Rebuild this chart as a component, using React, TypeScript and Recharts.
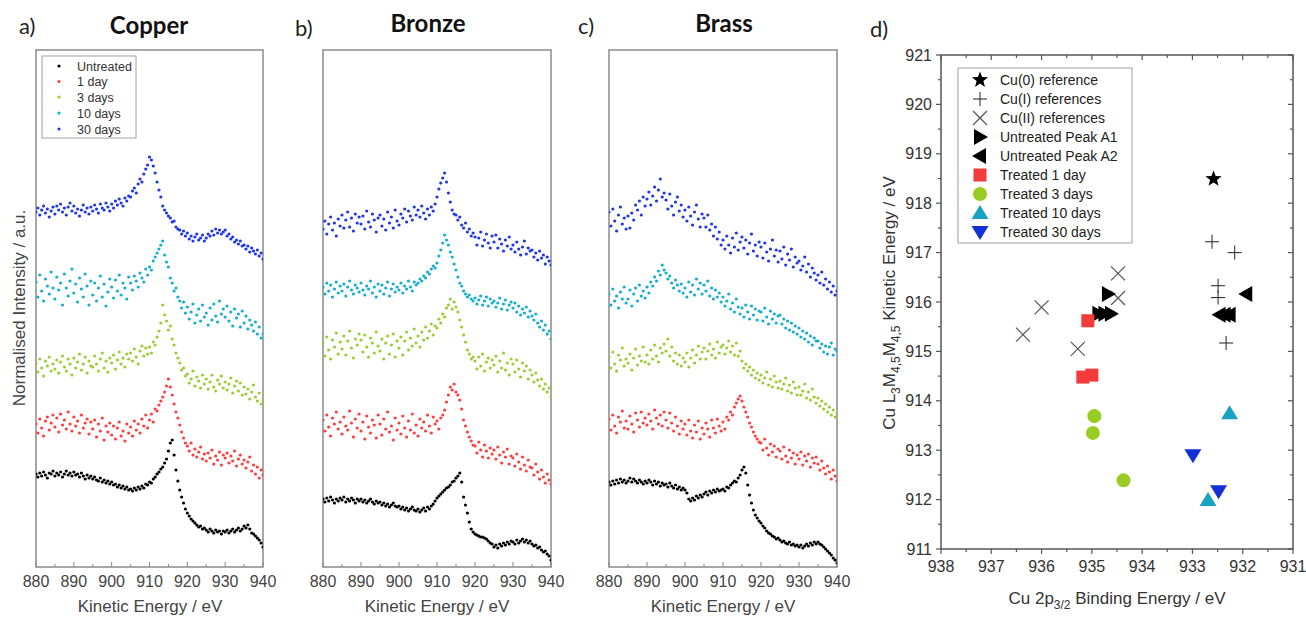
import React from 'react';
import { ScatterChart, Scatter, XAxis, YAxis, ReferenceArea } from 'recharts';

// ---------- Spectra (panels a-c): energy grid 880..940 eV, step 0.5 eV ----------
const energyStart = 880;
const energyStep = 0.5;

const copperUntreated = [
  93, 90, 94, 91, 95, 92, 89, 94, 93, 96,
  91, 94, 92, 95, 90, 93, 96, 92, 94, 91,
  95, 92, 93, 90, 94, 91, 88, 92, 89, 91,
  88, 90, 87, 86, 89, 85, 87, 84, 86, 83,
  85, 82, 83, 80, 82, 79, 81, 78, 80, 77,
  78, 76, 79, 77, 80, 78, 81, 79, 83, 82,
  85, 84, 88, 90, 93, 95, 98, 100, 104, 108,
  116, 124, 127, 112, 97, 86, 77, 70, 64, 58,
  54, 51, 48, 46, 44, 42, 40, 41, 38, 39,
  37, 35, 38, 36, 34, 37, 35, 36, 33, 36,
  35, 37, 34, 36, 38, 35, 37, 39, 36, 38,
  41, 39, 42, 38, 34, 33, 31, 29, 27, 24,
  20,
];
const copper1Day = [
  143, 134, 148, 139, 131, 146, 150, 137, 144, 152,
  140, 149, 135, 153, 142, 147, 138, 155, 143, 136,
  150, 141, 146, 134, 152, 139, 144, 148, 133, 145,
  138, 147, 130, 143, 136, 149, 127, 141, 135, 144,
  132, 141, 128, 139, 145, 131, 136, 126, 143, 134,
  140, 131, 146, 137, 143, 134, 148, 141, 152, 139,
  147, 153, 145, 158, 156, 162, 166, 170, 175, 181,
  188, 180, 172, 163, 155, 149, 142, 135, 129, 124,
  121, 116, 124, 112, 118, 110, 115, 120, 108, 113,
  106, 114, 109, 117, 103, 111, 107, 115, 102, 112,
  109, 114, 104, 111, 106, 116, 101, 108, 112, 103,
  107, 99, 105, 110, 96, 102, 93, 100, 89, 97,
  92,
];
const copper3Days = [
  204, 195, 208, 199, 191, 206, 201, 210, 196, 203,
  198, 207, 194, 205, 211, 200, 196, 208, 203, 192,
  209, 199, 205, 213, 197, 203, 210, 194, 206, 201,
  200, 211, 203, 196, 208, 214, 199, 206, 195, 209,
  204, 212, 198, 207, 215, 203, 209, 200, 213, 208,
  214, 206, 218, 210, 203, 216, 221, 211, 219, 213,
  220, 214, 225, 222, 230, 236, 244, 262, 252, 246,
  237, 241, 228, 222, 214, 209, 204, 197, 199, 191,
  193, 184, 188, 196, 181, 190, 186, 179, 192, 183,
  188, 178, 185, 192, 180, 176, 187, 183, 191, 179,
  185, 177, 183, 189, 174, 181, 186, 176, 184, 172,
  180, 173, 178, 168, 175, 182, 170, 166, 174, 163,
  167,
];
const copper10Days = [
  285, 270, 292, 276, 266, 288, 281, 273, 295, 279,
  268, 290, 277, 284, 262, 293, 279, 271, 286, 298,
  274, 283, 265, 289, 278, 270, 293, 281, 262, 286,
  272, 284, 266, 279, 291, 270, 283, 261, 275, 288,
  280, 269, 287, 276, 292, 272, 284, 279, 268, 290,
  284, 277, 291, 286, 280, 294, 289, 285, 298, 292,
  300, 297, 306, 310, 314, 318, 322, 326, 312, 305,
  300, 289, 284, 276, 279, 270, 266, 259, 265, 254,
  260, 248, 255, 263, 244, 252, 258, 246, 262, 250,
  254, 242, 259, 247, 263, 251, 245, 266, 253, 258,
  250, 261, 246, 255, 241, 258, 249, 253, 240, 256,
  244, 251, 238, 247, 242, 236, 245, 233, 240, 229,
  233,
];
const copper30Days = [
  355, 359, 352, 357, 361, 354, 358, 350, 356, 360,
  353, 361, 357, 363, 355, 359, 352, 360, 364, 356,
  361, 354, 358, 351, 357, 362, 355, 359, 353, 360,
  356, 362, 358, 354, 363, 359, 357, 364, 360, 356,
  363, 359, 366, 362, 368, 364, 361, 369, 366, 371,
  370, 376, 379, 374, 383, 388, 385, 393, 398, 402,
  410, 407, 401, 394, 385, 377, 370, 361, 357, 354,
  351, 349, 345, 346, 340, 338, 337, 333, 336, 331,
  334, 328, 331, 326, 330, 333, 327, 329, 332, 326,
  329, 333, 331, 336, 332, 338, 334, 337, 333, 335,
  337, 331, 333, 328, 330, 325, 327, 323, 326, 321,
  322, 318, 321, 315, 319, 316, 313, 317, 311, 314,
  308,
];

const bronzeUntreated = [
  68, 65, 69, 66, 70, 67, 64, 68, 66, 69,
  67, 70, 65, 68, 66, 69, 67, 64, 68, 66,
  68, 65, 67, 64, 66, 68, 65, 63, 66, 64,
  65, 62, 64, 61, 63, 60, 62, 64, 61, 60,
  61, 58, 60, 57, 59, 56, 58, 60, 57, 56,
  58, 55, 57, 59, 56, 60, 58, 61, 63, 66,
  69, 71, 73, 75, 77, 79, 80, 82, 85, 86,
  89, 91, 94, 85, 70, 62, 54, 45, 38, 35,
  33, 32, 31, 30, 30, 29, 28, 26, 24, 23,
  20, 22, 19, 23, 21, 24, 22, 25, 23, 26,
  25, 23, 27, 24, 26, 28, 25, 27, 24, 26,
  23, 21, 22, 19, 20, 17, 15, 16, 13, 11,
  7,
];
const bronze1Day = [
  147, 136, 152, 140, 131, 149, 143, 155, 138, 145,
  133, 150, 141, 137, 156, 144, 130, 148, 139, 153,
  136, 145, 128, 151, 140, 134, 147, 142, 129, 152,
  143, 132, 148, 138, 155, 135, 141, 127, 149, 137,
  144, 133, 151, 139, 130, 146, 137, 153, 134, 142,
  131, 148, 139, 145, 136, 152, 141, 134, 150, 143,
  146, 138, 149, 152, 157, 165, 172, 180, 177, 183,
  175, 172, 167, 158, 147, 141, 135, 130, 126, 122,
  121, 114, 125, 117, 110, 122, 116, 109, 119, 113,
  117, 108, 120, 112, 104, 115, 110, 118, 103, 111,
  109, 101, 113, 105, 98, 110, 102, 96, 107, 100,
  99, 92, 103, 95, 88, 97, 90, 84, 93, 87,
  83,
];
const bronze3Days = [
  224, 211, 230, 217, 208, 227, 220, 234, 213, 225,
  218, 231, 212, 226, 236, 219, 209, 228, 222, 233,
  227, 215, 232, 220, 210, 229, 224, 214, 235, 221,
  216, 228, 208, 224, 231, 213, 222, 233, 210, 226,
  219, 230, 212, 226, 235, 217, 229, 221, 238, 224,
  231, 220, 235, 227, 240, 229, 236, 243, 232, 241,
  239, 248, 244, 253, 250, 259, 262, 268, 258, 265,
  260, 255, 247, 240, 232, 225, 217, 213, 208, 210,
  206, 198, 210, 201, 213, 196, 205, 209, 199, 207,
  202, 211, 195, 206, 199, 214, 197, 204, 192, 208,
  203, 195, 207, 198, 190, 204, 196, 201, 188, 197,
  192, 185, 194, 187, 181, 188, 178, 183, 175, 179,
  170,
];
const bronze10Days = [
  280, 273, 284, 276, 282, 270, 278, 285, 274, 281,
  276, 283, 271, 280, 286, 277, 273, 282, 279, 275,
  284, 277, 272, 281, 278, 286, 274, 280, 270, 283,
  276, 282, 273, 279, 285, 271, 278, 283, 275, 280,
  277, 284, 274, 281, 278, 286, 280, 276, 285, 282,
  284, 288, 286, 291, 289, 295, 293, 298, 301, 299,
  304, 311, 317, 324, 332, 327, 322, 315, 310, 303,
  297, 290, 284, 281, 276, 273, 270, 272, 268, 266,
  269, 263, 267, 271, 262, 266, 270, 261, 268, 264,
  266, 260, 264, 269, 258, 263, 267, 257, 262, 265,
  259, 264, 255, 261, 252, 258, 254, 260, 250, 256,
  251, 247, 253, 244, 240, 246, 237, 242, 233, 236,
  228,
];
const bronze30Days = [
  338, 346, 333, 343, 350, 337, 344, 331, 348, 341,
  352, 339, 347, 355, 340, 349, 336, 353, 344, 350,
  343, 351, 338, 356, 345, 340, 353, 347, 335, 349,
  352, 341, 348, 337, 355, 344, 350, 339, 357, 346,
  342, 353, 349, 358, 345, 356, 351, 347, 360, 352,
  357, 350, 361, 354, 348, 358, 352, 360, 356, 363,
  370, 378, 384, 389, 394, 385, 374, 365, 357, 353,
  352, 347, 350, 342, 339, 344, 335, 338, 331, 334,
  330, 322, 329, 335, 321, 327, 333, 324, 319, 331,
  325, 332, 319, 328, 323, 316, 327, 321, 330, 318,
  322, 315, 325, 318, 312, 320, 326, 313, 319, 316,
  317, 310, 314, 307, 316, 309, 312, 303, 310, 306,
  302,
];

const brassUntreated = [
  85, 82, 86, 83, 87, 84, 88, 85, 87, 84,
  86, 89, 85, 88, 86, 84, 87, 85, 83, 86,
  84, 87, 85, 82, 86, 83, 85, 81, 84, 82,
  83, 80, 84, 81, 79, 82, 78, 80, 77, 79,
  77, 74, 68, 66, 69, 67, 71, 69, 72, 70,
  73, 75, 72, 76, 74, 77, 75, 78, 76, 77,
  78, 76, 80, 79, 82, 84, 86, 85, 89, 92,
  97, 100, 94, 82, 72, 64, 57, 52, 49, 46,
  44, 41, 39, 36, 34, 33, 31, 30, 28, 29,
  27, 25, 26, 24, 23, 25, 22, 23, 21, 22,
  20, 22, 19, 21, 23, 21, 24, 22, 25, 23,
  25, 23, 22, 20, 18, 16, 14, 12, 9, 7,
  4,
];
const brass1Day = [
  148, 137, 152, 141, 134, 150, 145, 156, 139, 146,
  138, 151, 143, 135, 154, 147, 140, 155, 144, 149,
  142, 153, 146, 138, 157, 149, 143, 152, 141, 155,
  147, 139, 154, 144, 136, 150, 141, 133, 146, 138,
  143, 132, 147, 136, 129, 142, 135, 146, 128, 139,
  133, 144, 138, 130, 147, 139, 134, 148, 141, 136,
  145, 138, 150, 147, 155, 152, 160, 164, 168, 171,
  166, 160, 155, 150, 144, 140, 135, 131, 128, 125,
  124, 117, 128, 119, 112, 123, 115, 121, 110, 118,
  116, 108, 120, 111, 105, 117, 109, 114, 103, 112,
  108, 115, 102, 111, 106, 113, 100, 109, 104, 110,
  103, 97, 106, 99, 93, 101, 95, 88, 97, 91,
  86,
];
const brass3Days = [
  210, 199, 215, 203, 196, 212, 207, 219, 201, 208,
  204, 213, 197, 209, 218, 202, 211, 206, 220, 205,
  212, 203, 217, 208, 222, 211, 205, 219, 214, 223,
  216, 228, 211, 220, 206, 214, 203, 212, 201, 209,
  205, 214, 200, 209, 217, 204, 212, 221, 208, 215,
  219, 208, 216, 223, 212, 218, 209, 225, 214, 220,
  222, 213, 219, 226, 215, 221, 212, 224, 211, 216,
  206, 199, 203, 196, 200, 192, 197, 189, 194, 187,
  192, 184, 189, 195, 182, 188, 180, 191, 185, 179,
  186, 178, 183, 189, 176, 182, 174, 185, 179, 172,
  180, 172, 176, 183, 169, 175, 167, 178, 170, 164,
  169, 161, 166, 158, 163, 155, 160, 152, 157, 150,
  154,
];
const brass10Days = [
  273, 262, 278, 266, 271, 259, 275, 268, 280, 264,
  268, 277, 261, 273, 279, 266, 282, 271, 276, 269,
  280, 274, 285, 281, 290, 286, 296, 292, 302, 297,
  294, 288, 291, 284, 279, 287, 282, 276, 283, 274,
  279, 270, 285, 275, 282, 272, 288, 278, 284, 273,
  282, 276, 286, 271, 279, 268, 277, 270, 274, 265,
  270, 261, 266, 273, 258, 264, 255, 268, 260, 253,
  259, 250, 262, 255, 248, 261, 252, 258, 247, 256,
  255, 246, 259, 250, 243, 256, 248, 253, 244, 251,
  252, 243, 248, 239, 246, 237, 244, 235, 241, 233,
  239, 230, 236, 228, 234, 225, 231, 222, 229, 226,
  226, 219, 223, 215, 221, 213, 220, 224, 212, 218,
  216,
];
const brass30Days = [
  355, 341, 358, 346, 336, 352, 360, 343, 349, 338,
  351, 339, 354, 347, 362, 357, 366, 352, 370, 361,
  368, 375, 362, 371, 380, 366, 377, 388, 370, 374,
  367, 358, 373, 361, 352, 365, 370, 356, 362, 350,
  357, 346, 360, 351, 342, 355, 362, 348, 340, 353,
  349, 340, 352, 337, 343, 331, 340, 328, 335, 322,
  327, 318, 331, 322, 314, 329, 320, 334, 317, 325,
  330, 319, 327, 313, 324, 333, 316, 322, 311, 325,
  320, 309, 324, 315, 306, 318, 327, 311, 317, 305,
  316, 308, 320, 302, 313, 307, 318, 300, 310, 304,
  306, 297, 301, 310, 295, 303, 290, 299, 294, 287,
  292, 284, 295, 282, 288, 278, 285, 275, 281, 272,
  276,
];

const seriesNames = ['Untreated', '1 day', '3 days', '10 days', '30 days'];
const seriesColors = ['#000000', '#ff3d3d', '#9acd32', '#14aecf', '#1f36e8'];
const specTicks = [880, 885, 890, 895, 900, 905, 910, 915, 920, 925, 930, 935, 940];

// ---------- Panel d ----------
const cu0Be = [932.58];
const cu0Ke = [918.49];
const cu1Be = [932.61, 932.16, 932.49, 932.49, 932.33];
const cu1Ke = [917.22, 917.0, 916.33, 916.09, 915.17];
const cu2Be = [936.37, 936.0, 935.28, 934.48, 934.48];
const cu2Ke = [915.34, 915.89, 915.05, 916.58, 916.08];
const a1Be = [934.68, 934.87, 934.75, 934.62];
const a1Ke = [916.16, 915.76, 915.76, 915.76];
const a2Be = [931.93, 932.46, 932.36, 932.26];
const a2Ke = [916.16, 915.74, 915.74, 915.74];
const t1Be = [935.08, 935.18, 935.0];
const t1Ke = [915.62, 914.48, 914.52];
const t3Be = [934.95, 934.98, 934.37];
const t3Ke = [913.69, 913.35, 912.39];
const t10Be = [932.26, 932.69];
const t10Ke = [913.75, 911.99];
const t30Be = [932.99, 932.48];
const t30Ke = [912.9, 912.17];

const beTicks = [931, 931.5, 932, 932.5, 933, 933.5, 934, 934.5, 935, 935.5, 936, 936.5, 937, 937.5, 938];
const keTicks = [911, 911.5, 912, 912.5, 913, 913.5, 914, 914.5, 915, 915.5, 916, 916.5, 917, 917.5, 918, 918.5, 919, 919.5, 920, 920.5, 921];

const SANS = '"Liberation Sans", Arial, sans-serif';
const TITLE_FONT = 'Lato, "Open Sans", sans-serif';

const toSpec = (vals: number[]) => vals.map((v, i) => ({ e: energyStart + i * energyStep, v }));
const toPts = (be: number[], ke: number[]) => be.map((b, i) => ({ be: b, ke: ke[i] }));

// ---------- marker shapes ----------
function starPath(cx: number, cy: number, R: number, r: number) {
  let d = '';
  for (let i = 0; i < 10; i++) {
    const ang = -Math.PI / 2 + (i * Math.PI) / 5;
    const rad = i % 2 === 0 ? R : r;
    d += (i === 0 ? 'M' : 'L') + (cx + rad * Math.cos(ang)).toFixed(2) + ',' + (cy + rad * Math.sin(ang)).toFixed(2);
  }
  return d + 'Z';
}

const markers: Record<string, (cx: number, cy: number) => React.ReactElement> = {
  star: (cx, cy) => <path d={starPath(cx, cy, 8.5, 3.6)} fill="#000" />,
  plus: (cx, cy) => (
    <g stroke="#333" strokeWidth={1.1}>
      <line x1={cx - 7} x2={cx + 7} y1={cy} y2={cy} />
      <line x1={cx} x2={cx} y1={cy - 7} y2={cy + 7} />
    </g>
  ),
  cross: (cx, cy) => (
    <g stroke="#555" strokeWidth={1.2}>
      <line x1={cx - 7} y1={cy - 7} x2={cx + 7} y2={cy + 7} />
      <line x1={cx - 7} y1={cy + 7} x2={cx + 7} y2={cy - 7} />
    </g>
  ),
  right: (cx, cy) => <path d={`M${cx - 6},${cy - 8}L${cx + 8},${cy}L${cx - 6},${cy + 8}Z`} fill="#000" />,
  left: (cx, cy) => <path d={`M${cx + 6},${cy - 8}L${cx - 8},${cy}L${cx + 6},${cy + 8}Z`} fill="#000" />,
  square: (cx, cy) => <rect x={cx - 6.5} y={cy - 6.5} width={13} height={13} fill="#f33b3b" />,
  circle: (cx, cy) => <circle cx={cx} cy={cy} r={7} fill="#99cc22" />,
  up: (cx, cy) => <path d={`M${cx},${cy - 8}L${cx + 8.5},${cy + 6}L${cx - 8.5},${cy + 6}Z`} fill="#19a2c2" />,
  down: (cx, cy) => <path d={`M${cx - 8.5},${cy - 6}L${cx + 8.5},${cy - 6}L${cx},${cy + 8}Z`} fill="#1230d6" />,
};

const shapeOf = (kind: string) => (p: any) => markers[kind](p.cx, p.cy);
const dotShape = (color: string) => (p: any) => <circle cx={p.cx} cy={p.cy} r={1.6} fill={color} />;

// ---------- ticks ----------
const isMajor = (v: number) => Math.abs(v - Math.round(v)) < 1e-6;

const specTick = (props: any) => {
  const { x, y, payload } = props;
  const major = payload.value % 10 === 0;
  return (
    <g>
      <line x1={x} x2={x} y1={y} y2={y - (major ? 5 : 3)} stroke="#888" strokeWidth={1} />
      {major && (
        <text x={x} y={y + 20} textAnchor="middle" fontSize={16} fill="#444" fontFamily={SANS}>
          {payload.value}
        </text>
      )}
    </g>
  );
};

const dBottomTick = (props: any) => {
  const { x, y, payload } = props;
  const m = isMajor(payload.value);
  return (
    <g>
      <line x1={x} x2={x} y1={y} y2={y + (m ? 5 : 3)} stroke="#555" strokeWidth={1.2} />
      {m && (
        <text x={x} y={y + 23} textAnchor="middle" fontSize={16} fill="#333" fontFamily={SANS}>
          {payload.value}
        </text>
      )}
    </g>
  );
};
const dTopTick = (props: any) => {
  const { x, y, payload } = props;
  const m = isMajor(payload.value);
  return <line x1={x} x2={x} y1={y} y2={y + (m ? 5 : 3)} stroke="#555" strokeWidth={1.2} />;
};
const dLeftTick = (props: any) => {
  const { x, y, payload } = props;
  const m = isMajor(payload.value);
  return (
    <g>
      <line x1={x} x2={x - (m ? 5 : 3)} y1={y} y2={y} stroke="#555" strokeWidth={1.2} />
      {m && (
        <text x={x - 9} y={y + 5.5} textAnchor="end" fontSize={16} fill="#333" fontFamily={SANS}>
          {payload.value}
        </text>
      )}
    </g>
  );
};
const dRightTick = (props: any) => {
  const { x, y, payload } = props;
  const m = isMajor(payload.value);
  return <line x1={x} x2={x - (m ? 5 : 3)} y1={y} y2={y} stroke="#555" strokeWidth={1.2} />;
};

// ---------- spectrum panel ----------
function SpectrumPanel({ plotLeft, plotWidth, series }: { plotLeft: number; plotWidth: number; series: number[][] }) {
  const mL = 40;
  const mR = 20;
  return (
    <div style={{ position: 'absolute', left: plotLeft - mL, top: 0 }}>
      <ScatterChart width={plotWidth + mL + mR} height={617} margin={{ top: 50, right: mR, bottom: 20, left: mL }}>
        <XAxis
          type="number"
          dataKey="e"
          domain={[880, 940]}
          ticks={specTicks}
          interval={0}
          tick={specTick}
          tickSize={0}
          tickMargin={0}
          axisLine={false}
          height={30}
          allowDataOverflow
        />
        <YAxis type="number" dataKey="v" domain={[0, 517]} hide width={0} allowDataOverflow />
        <ReferenceArea x1={880} x2={940} y1={0} y2={517} fill="none" stroke="#8a8a8a" strokeWidth={1.5} />
        {series.map((vals, i) => (
          <Scatter
            key={seriesNames[i]}
            name={seriesNames[i]}
            data={toSpec(vals)}
            shape={dotShape(seriesColors[i])}
            isAnimationActive={false}
          />
        ))}
      </ScatterChart>
    </div>
  );
}

// ---------- scatter panel d ----------
const dSeries = [
  { name: 'Cu(0) reference', kind: 'star', be: cu0Be, ke: cu0Ke },
  { name: 'Cu(I) references', kind: 'plus', be: cu1Be, ke: cu1Ke },
  { name: 'Cu(II) references', kind: 'cross', be: cu2Be, ke: cu2Ke },
  { name: 'Untreated Peak A1', kind: 'right', be: a1Be, ke: a1Ke },
  { name: 'Untreated Peak A2', kind: 'left', be: a2Be, ke: a2Ke },
  { name: 'Treated 1 day', kind: 'square', be: t1Be, ke: t1Ke },
  { name: 'Treated 3 days', kind: 'circle', be: t3Be, ke: t3Ke },
  { name: 'Treated 10 days', kind: 'up', be: t10Be, ke: t10Ke },
  { name: 'Treated 30 days', kind: 'down', be: t30Be, ke: t30Ke },
];

function PanelD() {
  return (
    <div style={{ position: 'absolute', left: 870, top: 0 }}>
      <ScatterChart width={436} height={617} margin={{ top: 45, right: 3, bottom: 38, left: 31 }}>
        <XAxis
          xAxisId="b"
          type="number"
          dataKey="be"
          domain={[931, 938]}
          reversed
          ticks={beTicks}
          interval={0}
          tick={dBottomTick}
          tickSize={0}
          tickMargin={0}
          axisLine={false}
          height={30}
          allowDataOverflow
        />
        <XAxis
          xAxisId="t"
          orientation="top"
          type="number"
          dataKey="be"
          domain={[931, 938]}
          reversed
          ticks={beTicks}
          interval={0}
          tick={dTopTick}
          tickSize={0}
          tickMargin={0}
          axisLine={false}
          height={10}
          allowDataOverflow
        />
        <YAxis
          yAxisId="l"
          type="number"
          dataKey="ke"
          domain={[911, 921]}
          ticks={keTicks}
          interval={0}
          tick={dLeftTick}
          tickSize={0}
          tickMargin={0}
          axisLine={false}
          width={40}
          allowDataOverflow
        />
        <YAxis
          yAxisId="r"
          orientation="right"
          type="number"
          dataKey="ke"
          domain={[911, 921]}
          ticks={keTicks}
          interval={0}
          tick={dRightTick}
          tickSize={0}
          tickMargin={0}
          axisLine={false}
          width={10}
          allowDataOverflow
        />
        <ReferenceArea xAxisId="b" yAxisId="l" x1={931} x2={938} y1={911} y2={921} fill="none" stroke="#555" strokeWidth={1.5} />
        {dSeries.map((s) => (
          <Scatter
            key={s.name}
            name={s.name}
            xAxisId="b"
            yAxisId="l"
            data={toPts(s.be, s.ke)}
            shape={shapeOf(s.kind)}
            isAnimationActive={false}
          />
        ))}
      </ScatterChart>
    </div>
  );
}

function Overlay() {
  const legendRowsA = [66, 81.5, 97, 113, 129];
  const legendRowsD = [80, 99, 118, 137, 156, 175, 194, 213, 232];
  return (
    <svg
      width={1306}
      height={617}
      style={{ position: 'absolute', left: 0, top: 0, pointerEvents: 'none' }}
    >
      <g fontFamily={TITLE_FONT} fontSize={22} fill="#222">
        <text x={19} y={34}>a)</text>
        <text x={295} y={36}>b)</text>
        <text x={578} y={34}>c)</text>
        <text x={870} y={37}>d)</text>
      </g>
      <g fontFamily={TITLE_FONT} fontSize={24} fontWeight={700} fill="#111" textAnchor="middle">
        <text x={149} y={34}>Copper</text>
        <text x={428} y={32}>Bronze</text>
        <text x={724} y={32}>Brass</text>
      </g>
      <g fontFamily={SANS} fontSize={17} fill="#444" textAnchor="middle">
        <text x={150} y={612}>Kinetic Energy / eV</text>
        <text x={437} y={612}>Kinetic Energy / eV</text>
        <text x={723} y={612}>Kinetic Energy / eV</text>
      </g>
      <text
        x={21}
        y={308}
        transform="rotate(-90 21 308)"
        fontFamily={SANS}
        fontSize={17}
        fill="#444"
        textAnchor="middle"
        dominantBaseline="middle"
      >
        Normalised Intensity / a.u.
      </text>
      <rect x={42} y={56} width={94} height={82} fill="#fff" stroke="#a0a0a0" strokeWidth={1} />
      {seriesNames.map((n, i) => (
        <g key={n}>
          <circle cx={59} cy={legendRowsA[i]} r={1.6} fill={seriesColors[i]} />
          <text x={77} y={legendRowsA[i] + 4.5} fontFamily={SANS} fontSize={12.5} fill="#333">
            {n}
          </text>
        </g>
      ))}
      <text x={1117} y={604} fontFamily={SANS} fontSize={17} fill="#333" textAnchor="middle">
        <tspan>Cu 2p</tspan>
        <tspan dy={5} fontSize={12}>3/2</tspan>
        <tspan dy={-5}> Binding Energy / eV</tspan>
      </text>
      <text
        x={895}
        y={303}
        transform="rotate(-90 895 303)"
        fontFamily={SANS}
        fontSize={17}
        fill="#333"
        textAnchor="middle"
      >
        <tspan>Cu L</tspan>
        <tspan dy={5} fontSize={12}>3</tspan>
        <tspan dy={-5}>M</tspan>
        <tspan dy={5} fontSize={12}>4,5</tspan>
        <tspan dy={-5}>M</tspan>
        <tspan dy={5} fontSize={12}>4,5</tspan>
        <tspan dy={-5}> Kinetic Energy / eV</tspan>
      </text>
      <rect x={958} y={68} width={174} height={175} fill="#fff" stroke="#a0a0a0" strokeWidth={1} />
      {dSeries.map((s, i) => (
        <g key={s.name}>
          {markers[s.kind](980, legendRowsD[i])}
          <text x={1000} y={legendRowsD[i] + 5} fontFamily={SANS} fontSize={14} fill="#222">
            {s.name}
          </text>
        </g>
      ))}
    </svg>
  );
}

export default function App() {
  return (
    <div style={{ position: 'absolute', left: 0, top: 0, width: 1306, height: 617, background: '#fff', overflow: 'hidden' }}>
      <SpectrumPanel
        plotLeft={36}
        plotWidth={227}
        series={[copperUntreated, copper1Day, copper3Days, copper10Days, copper30Days]}
      />
      <SpectrumPanel
        plotLeft={323}
        plotWidth={228}
        series={[bronzeUntreated, bronze1Day, bronze3Days, bronze10Days, bronze30Days]}
      />
      <SpectrumPanel
        plotLeft={609}
        plotWidth={228}
        series={[brassUntreated, brass1Day, brass3Days, brass10Days, brass30Days]}
      />
      <PanelD />
      <Overlay />
    </div>
  );
}
